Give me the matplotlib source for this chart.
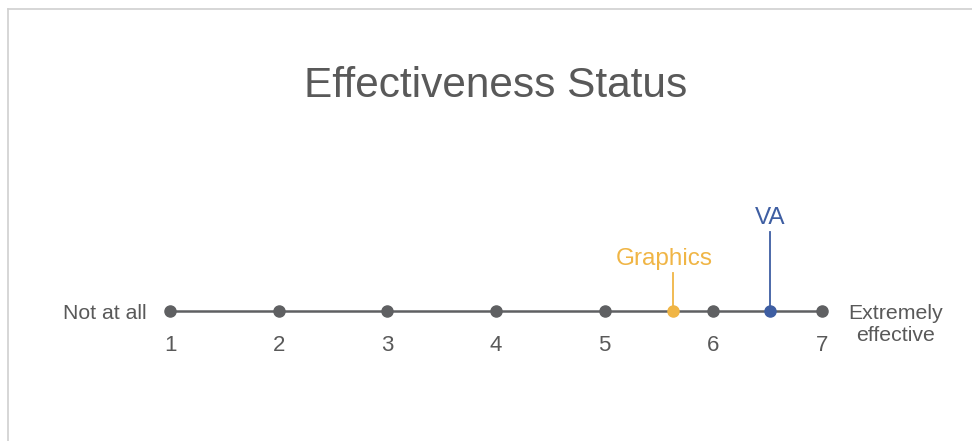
import matplotlib
matplotlib.use("Agg")
import matplotlib.pyplot as plt
from matplotlib.lines import Line2D

# scale points and the two markers
scale_points = [1, 2, 3, 4, 5, 6, 7]
markers = ["Graphics", "VA"]
marker_values = [5.63, 6.52]
marker_heights = [0.38, 0.79]
marker_colors = ["#F0B545", "#3E5EA2"]
label_shift = [-6.5, 0]  # label offset (pt) from the stem

GREY = "#5F6062"
TEXT = "#595959"

plt.rcParams["font.family"] = ["Liberation Sans", "DejaVu Sans"]

fig = plt.figure(figsize=(9.72, 4.41), dpi=100)
ax = fig.add_axes([0, 0, 1, 1])
ax.set_xlim(1 - 170 / 108.67, 1 + (972 - 170) / 108.67)
ax.set_ylim(-1.30, 3.11)
ax.axis("off")

# main scale line
ax.plot([scale_points[0], scale_points[-1]], [0, 0], color=GREY, lw=1.8, zorder=1)
ax.plot(scale_points, [0] * len(scale_points), "o", color=GREY, ms=8, zorder=3)
for v in scale_points:
    ax.annotate(str(v), (v, 0), xytext=(0, -24.5), textcoords="offset points",
                ha="center", va="center", fontsize=16, color=TEXT)

ax.annotate("Not at all", (scale_points[0], 0), xytext=(-17, -1.5),
            textcoords="offset points", ha="right", va="center",
            fontsize=15.3, color=TEXT)
ax.annotate("Extremely\neffective", (scale_points[-1], 0), xytext=(19, -10),
            textcoords="offset points", ha="left", va="center",
            fontsize=15.3, color=TEXT, multialignment="center", linespacing=1.2)

# marker stems + labels
for name, v, h, c, dx in zip(markers, marker_values, marker_heights,
                             marker_colors, label_shift):
    ax.plot([v, v], [0, h], color=c, lw=1.3, zorder=2)
    ax.plot([v], [0], "o", color=c, ms=8, zorder=4)
    ax.annotate(name, (v, h), xytext=(dx, 10), textcoords="offset points",
                ha="center", va="center", fontsize=17.5, color=c)

fig.text(496 / 972, 1 - 86 / 441, "Effectiveness Status", ha="center",
         va="center", fontsize=30.5, color=TEXT)

# chart frame (top + left edges)
frame = "#D0D0D0"
fig.add_artist(Line2D([8 / 972, 1], [1 - 9 / 441] * 2, color=frame, lw=1.2,
                      transform=fig.transFigure))
fig.add_artist(Line2D([8 / 972] * 2, [0, 1 - 9 / 441], color=frame, lw=1.2,
                      transform=fig.transFigure))

fig.savefig("out.png", dpi=100, facecolor="white")
